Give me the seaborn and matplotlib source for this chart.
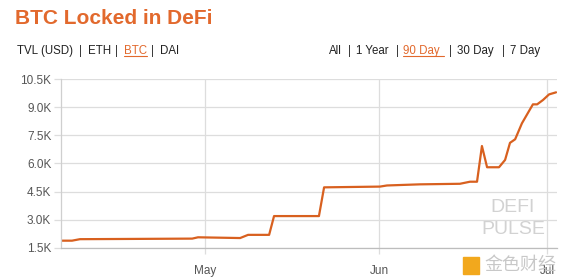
import matplotlib
matplotlib.use("Agg")
import matplotlib.pyplot as plt
import matplotlib.patches as mpatches
import seaborn as sns
import pandas as pd

# ---- data ----
timestamps = [
    "2020-04-05 08:00", "2020-04-07 07:00", "2020-04-08 17:00", "2020-04-15 21:00",
    "2020-04-28 17:00", "2020-04-29 18:00", "2020-05-07 06:00", "2020-05-08 16:00",
    "2020-05-12 10:00", "2020-05-13 07:00", "2020-05-21 07:00", "2020-05-22 05:00",
    "2020-06-01 04:00", "2020-06-02 10:00", "2020-06-08 07:00", "2020-06-15 10:00",
    "2020-06-17 05:00", "2020-06-18 11:00", "2020-06-19 08:00", "2020-06-20 06:00",
    "2020-06-22 09:00", "2020-06-23 11:00", "2020-06-24 08:00", "2020-06-25 06:00",
    "2020-06-26 11:00", "2020-06-27 13:00", "2020-06-28 10:00", "2020-06-29 04:00",
    "2020-06-30 05:00", "2020-07-01 07:00", "2020-07-02 13:00",
]
btc_locked_k = [
    1.89, 1.89, 1.97, 1.98,
    2.00, 2.07, 2.03, 2.20,
    2.20, 3.20, 3.20, 4.73,
    4.77, 4.83, 4.89, 4.92,
    5.03, 5.03, 6.93, 5.80,
    5.80, 6.19, 7.10, 7.29,
    8.14, 8.70, 9.15, 9.15,
    9.38, 9.68, 9.79,
]
y_ticks = [1.5, 3.0, 4.5, 6.0, 7.5, 9.0, 10.5]
y_tick_labels = ["1.5K", "3.0K", "4.5K", "6.0K", "7.5K", "9.0K", "10.5K"]
x_ticks = ["2020-05-01", "2020-06-01", "2020-07-01"]
x_tick_labels = ["May", "Jun", "Jul"]
x_range = ["2020-04-05 08:00", "2020-07-02 17:00"]

title = "BTC Locked in DeFi"
left_menu = ["TVL (USD)", "|", "ETH", "|", "BTC", "|", "DAI"]
left_menu_x = [17, 79, 88, 115, 124, 151, 160]
right_menu = ["All", "|", "1 Year", "|", "90 Day", "|", "30 Day", "|", "7 Day"]
right_menu_x = [329, 348, 356, 396, 403, 449, 457, 502, 510]

ORANGE = "#e2692d"
LINE = "#d8601f"

df = pd.DataFrame({"date": pd.to_datetime(timestamps), "value": btc_locked_k})

sns.set_theme(style="white")
plt.rcParams["font.family"] = ["Liberation Sans", "DejaVu Sans"]

W, H = 568, 279
fig = plt.figure(figsize=(W / 100, H / 100), dpi=100)
ax = fig.add_axes([61 / W, 1 - 248 / H, (557 - 61) / W, (248 - 79) / H])

sns.lineplot(data=df, x="date", y="value", ax=ax, color=LINE, linewidth=1.6)

ax.set_ylim(1.5, 10.5)
ax.set_xlim(pd.to_datetime(x_range[0]), pd.to_datetime(x_range[1]))
ax.set_yticks(y_ticks)
ax.set_yticklabels(y_tick_labels)
ax.set_xticks(pd.to_datetime(x_ticks))
ax.set_xticklabels(x_tick_labels)
ax.set_xlabel("")
ax.set_ylabel("")

ax.grid(True, color="#dddddd", linewidth=0.9)
ax.set_axisbelow(True)
for s in ["top", "right"]:
    ax.spines[s].set_visible(False)
ax.spines["left"].set_color("#cfcfcf")
ax.spines["left"].set_linewidth(0.9)
ax.spines["bottom"].set_color("#bdbdbd")
ax.spines["bottom"].set_linewidth(0.9)
ax.tick_params(axis="y", length=5, width=0.9, color="#dddddd", pad=2,
               labelsize=8.5, labelcolor="#555555", left=True)
ax.tick_params(axis="x", length=4, width=0.9, color="#dddddd", pad=8,
               labelsize=8.5, labelcolor="#555555", bottom=True)

# title & menus
fig.text(15 / W, 1 - 18 / H, title, color=ORANGE, fontsize=15, fontweight="bold",
         va="center", ha="left")
for txt, x in zip(left_menu, left_menu_x):
    c = ORANGE if txt == "BTC" else "#222222"
    fig.text(x / W, 1 - 51 / H, txt, color=c, fontsize=8.3, va="center", ha="left")
for txt, x in zip(right_menu, right_menu_x):
    c = ORANGE if txt == "90 Day" else "#222222"
    fig.text(x / W, 1 - 51 / H, txt, color=c, fontsize=8.3, va="center", ha="left")
# underlines for selected items
fig.add_artist(plt.Line2D([124 / W, 147 / W], [1 - 56 / H, 1 - 56 / H], color=ORANGE, lw=0.8))
fig.add_artist(plt.Line2D([403 / W, 444 / W], [1 - 56 / H, 1 - 56 / H], color=ORANGE, lw=0.8))

# watermarks
fig.text(513 / W, 1 - 208 / H, "DEFI", color="#d2d2d2", fontsize=14, ha="center", va="center")
fig.text(513 / W, 1 - 230 / H, "PULSE", color="#d2d2d2", fontsize=14, ha="center", va="center")
fig.add_artist(mpatches.Rectangle((463 / W, 1 - 274 / H), 16 / W, 17 / H,
                                  color="#f2a81d", transform=fig.transFigure))
fig.text(484 / W, 1 - 265 / H, "金色财经", color="#c8c8c8", fontsize=13,
         ha="left", va="center", family=["Noto Sans CJK SC", "DejaVu Sans"])

fig.savefig("out.png", dpi=100)
